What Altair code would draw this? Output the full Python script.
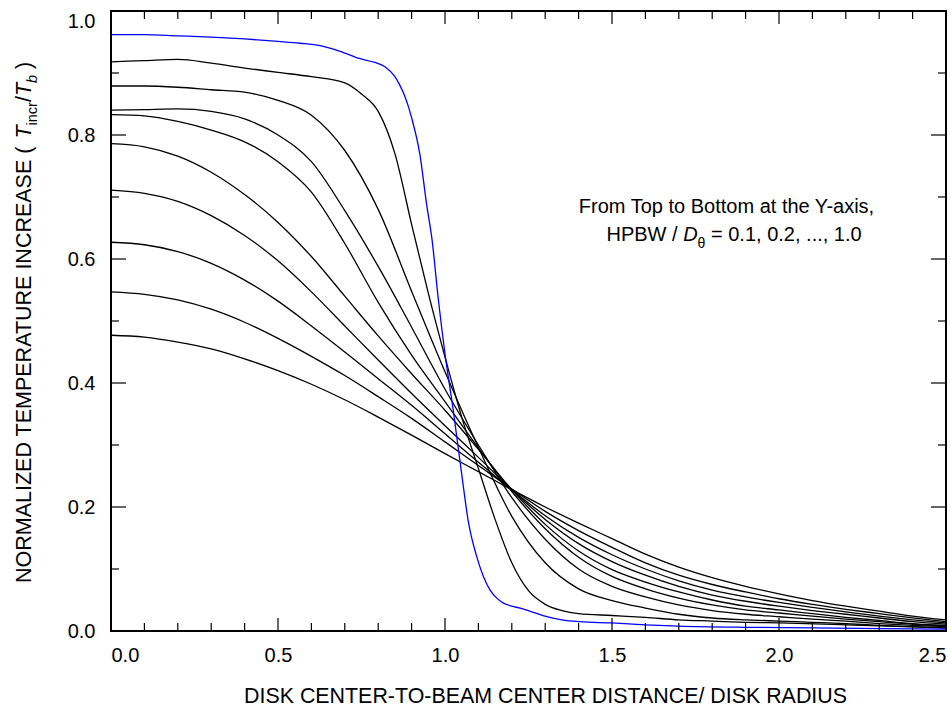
import altair as alt
import pandas as pd

W, H = 835, 620
FONT = "Liberation Sans"

# ---------------- data ----------------
SERIES = ["0.1", "0.2", "0.3", "0.4", "0.5", "0.6", "0.7", "0.8", "0.9", "1.0"]
COLORS = ["#0000ff"] + ["#000000"] * 9

X_GRID = [0.0, 0.1, 0.2, 0.3, 0.4, 0.5, 0.6, 0.7, 0.8, 0.9, 1.0, 1.1, 1.2,
          1.3, 1.4, 1.5, 1.6, 1.7, 1.8, 1.9, 2.0, 2.1, 2.2, 2.3, 2.4, 2.5]

X_01 = [0.0, 0.1, 0.2, 0.3, 0.4, 0.5, 0.566, 0.626, 0.686, 0.746, 0.79, 0.82,
        0.85, 0.865, 0.88, 0.9, 0.925, 0.945, 0.961, 0.98, 1.0, 1.025, 1.05,
        1.07, 1.095, 1.115, 1.135, 1.155, 1.175, 1.2, 1.225, 1.26, 1.305, 1.35,
        1.404, 1.5, 1.6, 1.7, 1.9, 2.1, 2.5]
Y_01 = [0.962, 0.962, 0.960, 0.958, 0.955, 0.951, 0.948, 0.944, 0.935, 0.923,
        0.917, 0.910, 0.894, 0.880, 0.862, 0.828, 0.768, 0.688, 0.632, 0.535,
        0.447, 0.355, 0.253, 0.176, 0.120, 0.088, 0.066, 0.053, 0.045, 0.040,
        0.037, 0.031, 0.023, 0.018, 0.015, 0.013, 0.010, 0.008, 0.006, 0.005,
        0.003]

X_02 = [0.0, 0.1, 0.2, 0.3, 0.4, 0.5, 0.6, 0.7, 0.75, 0.8, 0.85, 0.9, 0.95,
        1.0, 1.05, 1.1, 1.15, 1.2, 1.25, 1.3, 1.35, 1.4, 1.5, 1.6, 1.7, 1.8,
        1.9, 2.0, 2.2, 2.5]
Y_02 = [0.918, 0.920, 0.922, 0.916, 0.908, 0.901, 0.894, 0.884, 0.866, 0.838,
        0.770, 0.656, 0.545, 0.442, 0.345, 0.262, 0.180, 0.110, 0.065, 0.043,
        0.033, 0.028, 0.025, 0.022, 0.018, 0.016, 0.014, 0.013, 0.010, 0.005]

Y_03 = [0.879, 0.879, 0.877, 0.873, 0.869, 0.856, 0.832, 0.775, 0.680, 0.548,
        0.418, 0.296, 0.185, 0.110, 0.068, 0.049, 0.037, 0.027, 0.021, 0.018,
        0.016, 0.014, 0.012, 0.009, 0.007, 0.005]
Y_04 = [0.840, 0.841, 0.842, 0.838, 0.826, 0.800, 0.757, 0.678, 0.588, 0.490,
        0.390, 0.300, 0.215, 0.148, 0.100, 0.072, 0.055, 0.042, 0.033, 0.027,
        0.023, 0.019, 0.016, 0.012, 0.009, 0.007]
Y_05 = [0.833, 0.831, 0.822, 0.808, 0.789, 0.757, 0.708, 0.625, 0.530, 0.445,
        0.370, 0.295, 0.225, 0.165, 0.119, 0.088, 0.068, 0.053, 0.042, 0.034,
        0.029, 0.024, 0.019, 0.015, 0.011, 0.008]
Y_06 = [0.786, 0.781, 0.766, 0.740, 0.704, 0.659, 0.604, 0.540, 0.476, 0.415,
        0.356, 0.293, 0.228, 0.172, 0.129, 0.099, 0.079, 0.063, 0.050, 0.040,
        0.034, 0.028, 0.022, 0.017, 0.012, 0.009]
Y_07 = [0.711, 0.706, 0.693, 0.670, 0.638, 0.597, 0.547, 0.492, 0.437, 0.383,
        0.331, 0.280, 0.228, 0.180, 0.141, 0.112, 0.090, 0.072, 0.058, 0.048,
        0.040, 0.033, 0.027, 0.021, 0.015, 0.011]
Y_08 = [0.627, 0.623, 0.612, 0.593, 0.566, 0.532, 0.492, 0.450, 0.407, 0.364,
        0.318, 0.272, 0.228, 0.186, 0.151, 0.123, 0.100, 0.081, 0.066, 0.055,
        0.046, 0.038, 0.031, 0.024, 0.018, 0.013]
Y_09 = [0.547, 0.543, 0.534, 0.519, 0.498, 0.472, 0.443, 0.412, 0.378, 0.343,
        0.305, 0.267, 0.229, 0.193, 0.162, 0.135, 0.110, 0.090, 0.075, 0.063,
        0.052, 0.043, 0.035, 0.028, 0.021, 0.015]
Y_10 = [0.477, 0.474, 0.466, 0.455, 0.439, 0.420, 0.398, 0.373, 0.345, 0.316,
        0.286, 0.257, 0.228, 0.200, 0.174, 0.149, 0.124, 0.103, 0.086, 0.072,
        0.060, 0.049, 0.040, 0.032, 0.024, 0.018]

X_LABELS = [0.0, 0.5, 1.0, 1.5, 2.0, 2.5]
Y_LABELS = [0.0, 0.2, 0.4, 0.6, 0.8, 1.0]
X_MAJOR = [0.5, 1.0, 1.5, 2.0]
X_MINOR = [0.1, 0.2, 0.3, 0.4, 0.6, 0.7, 0.8, 0.9, 1.1, 1.2, 1.3, 1.4,
           1.6, 1.7, 1.8, 1.9, 2.1, 2.2, 2.3, 2.4]
Y_MAJOR = [0.2, 0.4, 0.6, 0.8]
Y_MINOR = [0.1, 0.3, 0.5, 0.7, 0.9]

# ---------------- table ----------------
curves = [
    (SERIES[9], X_GRID, Y_10), (SERIES[8], X_GRID, Y_09), (SERIES[7], X_GRID, Y_08),
    (SERIES[6], X_GRID, Y_07), (SERIES[5], X_GRID, Y_06), (SERIES[4], X_GRID, Y_05),
    (SERIES[3], X_GRID, Y_04), (SERIES[2], X_GRID, Y_03), (SERIES[1], X_02, Y_02),
    (SERIES[0], X_01, Y_01),
]
rows = []
for name, xs, ys in curves:
    for xv, yv in zip(xs, ys):
        rows.append({"s": name, "x": xv, "y": yv})
df = pd.DataFrame(rows)

xscale = alt.Scale(domain=[0, 2.5], nice=False, zero=False)
yscale = alt.Scale(domain=[0, 1], nice=False, zero=False)

X_TITLE = "DISK CENTER-TO-BEAM CENTER DISTANCE/ DISK RADIUS"

x_axis = alt.Axis(
    values=X_LABELS, format=".1f", labelFlush=True, ticks=False, domain=False,
    grid=False, labelFont=FONT, labelFontSize=20, labelColor="black",
    labelPadding=14, title=X_TITLE,
    titleFont=FONT, titleFontSize=21.4, titleFontWeight="normal", titleColor="black",
    titleX=434, titleY=71, titleBaseline="alphabetic",
)
y_axis = alt.Axis(
    values=Y_LABELS, format=".1f", ticks=False, domain=False, grid=False,
    labelFont=FONT, labelFontSize=20, labelColor="black", labelPadding=16,
    labelBaseline=alt.condition("datum.value == 1", alt.value("top"), alt.value("middle")),
    title=" ",
)

lines = alt.Chart(df).mark_line(interpolate="monotone", strokeWidth=1.3).encode(
    x=alt.X("x:Q", scale=xscale, axis=x_axis),
    y=alt.Y("y:Q", scale=yscale, axis=y_axis),
    color=alt.Color("s:N", scale=alt.Scale(domain=SERIES, range=COLORS), legend=None),
)


def xticks(vals, y0, y1):
    return alt.Chart(pd.DataFrame({"x": vals})).mark_rule(
        color="black", strokeWidth=1.2
    ).encode(x=alt.X("x:Q", scale=xscale, axis=x_axis), y=alt.value(y0), y2=alt.value(y1))


def yticks(vals, x0, x1):
    return alt.Chart(pd.DataFrame({"y": vals})).mark_rule(
        color="black", strokeWidth=1.2
    ).encode(y=alt.Y("y:Q", scale=yscale, axis=y_axis), x=alt.value(x0), x2=alt.value(x1))


ticks = [
    xticks(X_MAJOR, H, H - 13), xticks(X_MINOR, H, H - 8),
    xticks(X_MAJOR, 0, 13), xticks(X_MINOR, 0, 8),
    yticks(Y_MAJOR, 0, 15), yticks(Y_MINOR, 0, 8),
    yticks(Y_MAJOR, W, W - 15), yticks(Y_MINOR, W, W - 8),
]


def label(text, x, y, size=20, style="normal", angle=0, align="left"):
    return alt.Chart(pd.DataFrame({"t": [text]})).mark_text(
        font=FONT, fontSize=size, fontStyle=style, angle=angle, align=align,
        baseline="alphabetic", color="black",
    ).encode(text="t:N", x=alt.value(x), y=alt.value(y))


texts = [
    # annotation
    label("From Top to Bottom at the Y-axis,", 615.5, 202, align="center"),
    label("HPBW /", 495.5, 230),
    label("D", 572.2, 230, style="italic"),
    label("θ", 586.6, 237, size=14),
    label("= 0.1, 0.2, ..., 1.0", 600, 230),
    # y-axis title, rotated
    label("NORMALIZED TEMPERATURE INCREASE (", -80, 572, size=21.5, angle=270),
    label("T", -80, 127.6, size=21.5, style="italic", angle=270),
    label("incr", -74, 114.5, size=14.5, angle=270),
    label("/", -80, 91.1, size=21.5, angle=270),
    label("T", -80, 85.1, size=21.5, style="italic", angle=270),
    label("b", -74, 72.0, size=14.5, style="italic", angle=270),
    label(")", -80, 57.9, size=21.5, angle=270),
]

chart = alt.layer(lines, *ticks, *texts).properties(
    width=W, height=H,
    background="white",
    autosize=alt.AutoSizeParams(type="none"),
    padding={"left": 111, "top": 11, "right": 5, "bottom": 80},
).configure_view(stroke="black", strokeWidth=2)

chart.save("out.html", embed_options={"renderer": "svg", "actions": False})
